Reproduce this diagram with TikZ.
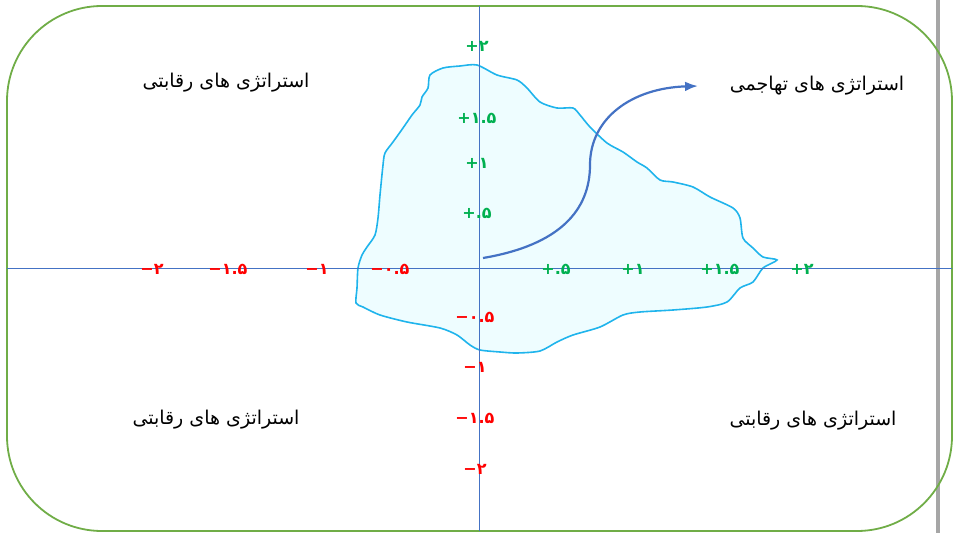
\documentclass[tikz,border=0pt]{standalone}
\usepackage{fontspec}
\newfontfamily\arabicfont[Script=Arabic]{DejaVu Sans}
\newfontfamily\digitfont{DejaVu Sans}
\TeXXeTstate=1
\usetikzlibrary{arrows.meta}
\definecolor{frame}{HTML}{70AD47}
\definecolor{axis}{HTML}{4472C4}
\definecolor{blobline}{HTML}{1FB4EC}
\definecolor{blobfill}{HTML}{EEFDFF}
\definecolor{pos}{HTML}{00B050}
\definecolor{neg}{HTML}{FF0000}

\begin{document}
\begin{tikzpicture}[x=1pt,y=-1pt,>=Latex,
  tick/.style={font=\digitfont\bfseries\fontsize{16}{16}\selectfont,inner sep=0pt},
  postick/.style={tick,text=pos},
  negtick/.style={tick,text=neg},
  strat/.style={font=\arabicfont\fontsize{19}{21}\selectfont,inner sep=1pt}]
  \useasboundingbox (0,0) rectangle (954,533);
  \fill[gray!70] (936,0) rectangle (940,533);
  \draw[frame,line width=1.8pt,rounded corners=95pt] (7,6) rectangle (952,531);
  % region around the origin
  \draw[blobline,fill=blobfill,line width=1.6pt] plot[smooth cycle,tension=0.45] coordinates {
    (477,65) (497,75) (517,80) (527,88) (540,102) (557,108) (573,108) (580,115)
    (590,127) (607,143) (623,152) (637,162) (647,168) (660,180) (673,182) (693,187)
    (710,197) (733,208) (740,218) (743,238) (753,248) (763,257) (777,260)
    (763,268) (753,282) (740,288) (727,302) (707,307) (673,310) (640,312) (623,315)
    (600,327) (573,335) (557,342) (540,351) (517,353) (500,352) (480,350) (470,345)
    (457,335) (440,328) (407,322) (380,315) (363,307) (356,303) (357,288) (358,268)
    (362,255) (367,247) (375,235) (378,218) (380,195) (383,165) (385,153) (393,142)
    (403,128) (412,115) (420,105) (422,97) (428,88) (430,75) (443,68) (460,66)};
  \draw[axis,line width=0.8pt] (7,268) -- (952,268);
  \draw[axis,line width=0.8pt] (479,6) -- (479,531);
  % axis labels
  \foreach \n/\x/\t in {hn4/152/{−۲},hn3/228/{−۱.۵},hn2/317/{−۱},hn1/390/{−۰.۵}}
    \node[negtick] (\n) at (\x,269) {\t};
  \foreach \n/\x/\t in {hp1/556/{+.۵},hp2/633/{+۱},hp3/720/{+۱.۵},hp4/802/{+۲}}
    \node[postick] (\n) at (\x,269) {\t};
  \foreach \n/\y/\t in {vp4/46/{+۲},vp3/118/{+۱.۵},vp2/163/{+۱},vp1/213/{+.۵}}
    \node[postick] (\n) at (477,\y) {\t};
  \foreach \n/\y/\t in {vn1/317/{−۰.۵},vn2/367/{−۱},vn3/418/{−۱.۵},vn4/469/{−۲}}
    \node[negtick] (\n) at (475,\y) {\t};
  % quadrant texts
  \node[strat] (compa) at (226,83) {\beginR استراتژی های رقابتی\endR};
  \node[strat] (attack) at (817,86) {\beginR استراتژی های تهاجمی\endR};
  \node[strat] (compb) at (216,420) {\beginR استراتژی های رقابتی\endR};
  \node[strat] (compc) at (813,421) {\beginR استراتژی های رقابتی\endR};
  \coordinate (arrstart) at (483,258);
  \coordinate (arrend) at (698,86);
  \draw[->,axis,line width=2.2pt] (arrstart) .. controls (560,245) and (590,210) .. (590,165)
    .. controls (590,118) and (632,88) .. (arrend);
\end{tikzpicture}
\end{document}
